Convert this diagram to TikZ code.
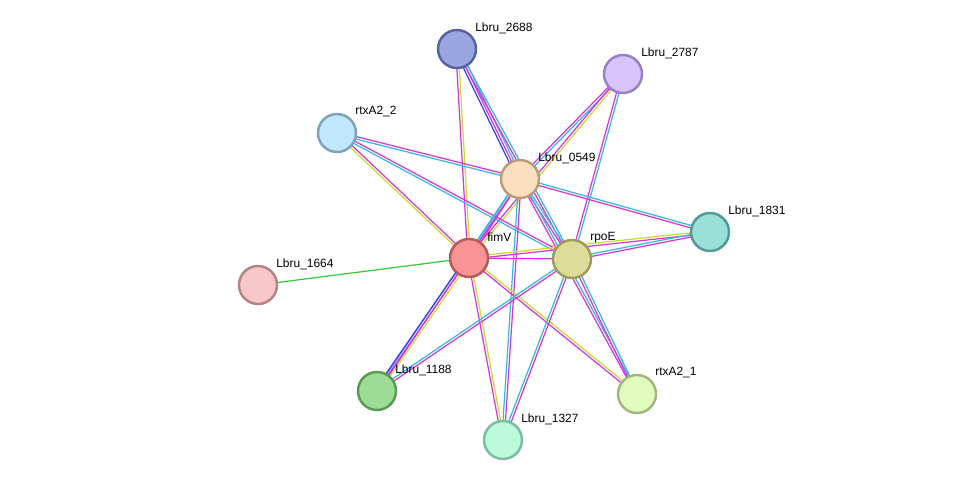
\documentclass[tikz,border=0pt]{standalone}
\usepackage{fontspec}
\setmainfont{Liberation Sans}
\usetikzlibrary{calc,backgrounds,positioning}

\definecolor{expmag}{HTML}{D535D8}
\definecolor{dbcyan}{HTML}{35B8DC}
\definecolor{txtyel}{HTML}{C4DC2E}
\definecolor{coblue}{HTML}{3A3CF2}
\definecolor{nbgreen}{HTML}{3CC43C}

\tikzset{
    prot/.style={
        circle,
        minimum size=0.76cm,
        inner sep=0pt,
        line width=1.4pt
    },
    lbl/.style={
        anchor=west,
        font=\fontsize{6.8pt}{8pt}\selectfont,
        inner sep=0pt
    },
    edge/.style={
        line width=0.7pt
    }
}

% one evidence channel per colour, offset sideways
\newcommand{\strand}[3]{%
    \foreach \col/\off in {#3} {
        \draw[edge,\col] ($(#1)!\off pt!90:(#2)$) -- ($(#2)!\off pt!-90:(#1)$);
    }%
}

\begin{document}
\begin{tikzpicture}[x=0.02cm,y=-0.02cm]
            \useasboundingbox (0,0) rectangle (975,486);

            % Proteins
            \node[prot, fill={rgb,255:red,153;green,166;blue,224}, draw={rgb,255:red,88;green,98;blue,160}] (n2688) at (457,49) {};
            \node[prot, fill={rgb,255:red,214;green,196;blue,250}, draw={rgb,255:red,152;green,128;blue,200}] (n2787) at (623,74) {};
            \node[prot, fill={rgb,255:red,194;green,230;blue,250}, draw={rgb,255:red,124;green,162;blue,188}] (rtx2) at (337,133) {};
            \node[prot, fill={rgb,255:red,252;green,223;blue,192}, draw={rgb,255:red,184;green,156;blue,124}] (n0549) at (520,179) {};
            \node[prot, fill={rgb,255:red,154;green,224;blue,216}, draw={rgb,255:red,82;green,154;blue,148}] (n1831) at (710,232) {};
            \node[prot, fill={rgb,255:red,250;green,148;blue,148}, draw={rgb,255:red,180;green,88;blue,88}] (fimV) at (469,258) {};
            \node[prot, fill={rgb,255:red,221;green,220;blue,152}, draw={rgb,255:red,158;green,156;blue,90}] (rpoE) at (572,259) {};
            \node[prot, fill={rgb,255:red,248;green,200;blue,200}, draw={rgb,255:red,180;green,132;blue,132}] (n1664) at (258,285) {};
            \node[prot, fill={rgb,255:red,156;green,220;blue,148}, draw={rgb,255:red,90;green,154;blue,84}] (n1188) at (377,391) {};
            \node[prot, fill={rgb,255:red,226;green,252;blue,192}, draw={rgb,255:red,160;green,184;blue,128}] (rtx1) at (637,394) {};
            \node[prot, fill={rgb,255:red,188;green,250;blue,220}, draw={rgb,255:red,124;green,188;blue,160}] (n1327) at (503,440) {};

            % Labels
            \node[lbl] (t2688) at ([shift={(18,-21)}]n2688) {Lbru\_2688};
            \node[lbl] (t2787) at ([shift={(18,-21)}]n2787) {Lbru\_2787};
            \node[lbl] (trtx2) at ([shift={(18,-21)}]rtx2) {rtxA2\_2};
            \node[lbl] (t0549) at ([shift={(18,-21)}]n0549) {Lbru\_0549};
            \node[lbl] (t1831) at ([shift={(18,-21)}]n1831) {Lbru\_1831};
            \node[lbl] (tfimV) at ([shift={(18,-21)}]fimV) {fimV};
            \node[lbl] (trpoE) at ([shift={(18,-21)}]rpoE) {rpoE};
            \node[lbl] (t1664) at ([shift={(18,-21)}]n1664) {Lbru\_1664};
            \node[lbl] (t1188) at ([shift={(18,-21)}]n1188) {Lbru\_1188};
            \node[lbl] (trtx1) at ([shift={(18,-21)}]rtx1) {rtxA2\_1};
            \node[lbl] (t1327) at ([shift={(18,-21)}]n1327) {Lbru\_1327};

            % Evidence lines
            \begin{scope}[on background layer]
            \strand{n2688}{n0549}{coblue/-1.4, expmag/0, dbcyan/1.4}
            \strand{n2688}{rpoE}{expmag/-0.7, dbcyan/0.7}
            \strand{n2688}{fimV}{expmag/-0.7, txtyel/0.7}
            \strand{n2787}{n0549}{expmag/-0.7, dbcyan/0.7}
            \strand{n2787}{fimV}{expmag/-0.7, txtyel/0.7}
            \strand{n2787}{rpoE}{expmag/-0.7, dbcyan/0.7}
            \strand{rtx2}{n0549}{dbcyan/-0.7, expmag/0.7}
            \strand{rtx2}{rpoE}{dbcyan/-0.7, expmag/0.7}
            \strand{rtx2}{fimV}{txtyel/-0.7, expmag/0.7}
            \strand{n0549}{n1831}{expmag/-0.7, dbcyan/0.7}
            \strand{n0549}{fimV}{dbcyan/-0.7, expmag/0.7}
            \strand{n0549}{rpoE}{expmag/-0.7, dbcyan/0.7}
            \strand{n0549}{n1327}{dbcyan/-0.7, expmag/0.7}
            \strand{n0549}{n1188}{dbcyan/-0.7, expmag/0.7}
            \strand{n0549}{rtx1}{expmag/-0.7, dbcyan/0.7}
            \strand{fimV}{rpoE}{expmag/0}
            \strand{fimV}{n1831}{expmag/-0.7, txtyel/0.7}
            \strand{rpoE}{n1831}{expmag/-0.7, dbcyan/0.7}
            \strand{fimV}{n1664}{nbgreen/0}
            \strand{fimV}{n1188}{coblue/-1.4, expmag/0, txtyel/1.4}
            \strand{fimV}{n1327}{expmag/-0.7, txtyel/0.7}
            \strand{fimV}{rtx1}{expmag/-0.7, txtyel/0.7}
            \strand{rpoE}{n1188}{dbcyan/-0.7, expmag/0.7}
            \strand{rpoE}{n1327}{dbcyan/-0.7, expmag/0.7}
            \strand{rpoE}{rtx1}{expmag/-0.7, dbcyan/0.7}
            \end{scope}
\end{tikzpicture}
\end{document}
